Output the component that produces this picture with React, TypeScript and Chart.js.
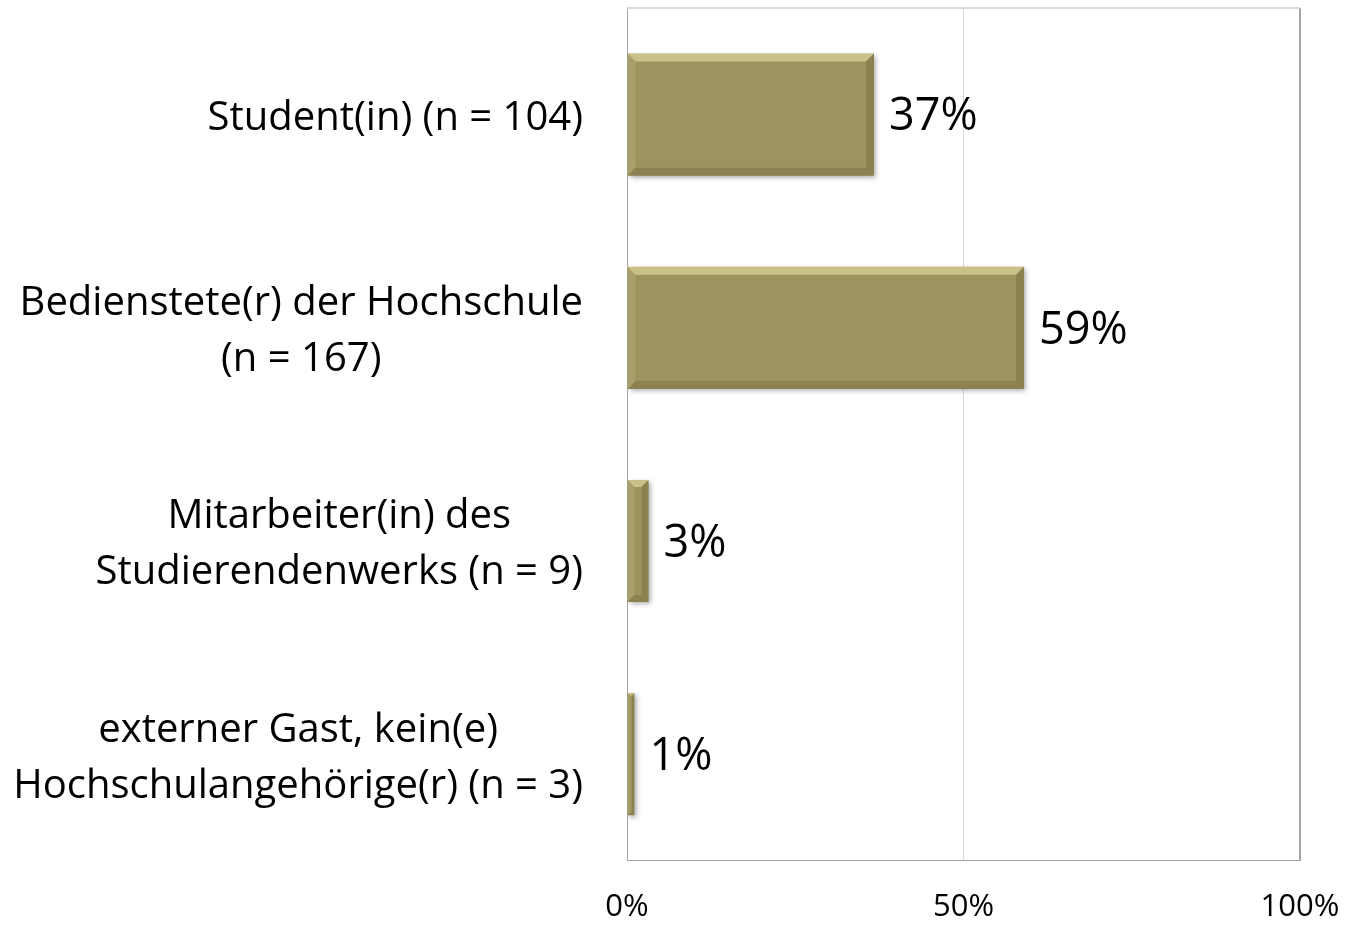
import React, { useEffect, useRef } from "react";
import { Chart, registerables } from "chart.js";
Chart.register(...registerables);

const categories: string[][] = [
  ["Student(in) (n = 104)"],
  ["Bedienstete(r) der Hochschule", "(n = 167)"],
  ["Mitarbeiter(in) des", "Studierendenwerks (n = 9)"],
  ["externer Gast, kein(e)", "Hochschulangehörige(r) (n = 3)"],
];
const values: number[] = [36.7, 59.0, 3.2, 1.1];
const valueLabels: string[] = ["37%", "59%", "3%", "1%"];
const xTickValues: number[] = [0, 50, 100];

const FONT = "'Open Sans', sans-serif";

export default function App() {
  const ref = useRef<HTMLCanvasElement>(null);
  useEffect(() => {
    const canvas = ref.current!;
    const decor: any = {
      id: "decor",
      beforeDatasetsDraw(chart: any) {
        const c = chart.ctx;
        c.save();
        c.shadowColor = "rgba(0,0,0,0.35)";
        c.shadowBlur = 5;
        c.shadowOffsetX = 2;
        c.shadowOffsetY = 2;
      },
      afterDatasetsDraw(chart: any) {
        const c = chart.ctx;
        c.restore();
        const meta = chart.getDatasetMeta(0);
        meta.data.forEach((el: any, i: number) => {
          const p = el.getProps(["x", "y", "base", "height"], true);
          const l = Math.min(p.base, p.x);
          const r = Math.max(p.base, p.x);
          const t = p.y - p.height / 2;
          const bt = p.y + p.height / 2;
          const w = r - l;
          const b = Math.max(1, Math.min(8, w / 3, p.height / 3));
          const poly = (pts: number[][], col: string) => {
            c.beginPath();
            c.moveTo(pts[0][0], pts[0][1]);
            for (let k = 1; k < pts.length; k++) c.lineTo(pts[k][0], pts[k][1]);
            c.closePath();
            c.fillStyle = col;
            c.fill();
          };
          c.save();
          poly([[l, t], [r, t], [r - b, t + b], [l + b, t + b]], "rgba(255,250,190,0.45)");
          poly([[r, t], [r, bt], [r - b, bt - b], [r - b, t + b]], "rgba(70,65,30,0.22)");
          poly([[l, bt], [r, bt], [r - b, bt - b], [l + b, bt - b]], "rgba(70,65,30,0.2)");
          poly([[l, t], [l + b, t + b], [l + b, bt - b], [l, bt]], "rgba(255,250,190,0.12)");
          c.restore();
          c.save();
          c.fillStyle = "#000";
          c.font = `45px ${FONT}`;
          c.textAlign = "left";
          c.textBaseline = "middle";
          c.fillText(valueLabels[i], r + 15, p.y + 3);
          c.restore();
        });
      },
      afterDraw(chart: any) {
        const c = chart.ctx;
        const a = chart.chartArea;
        c.save();
        c.strokeStyle = "#d9d9d9";
        c.lineWidth = 2;
        c.beginPath();
        c.moveTo(a.left, a.top);
        c.lineTo(a.right, a.top);
        c.stroke();
        const ys = chart.scales.y;
        c.fillStyle = "#000";
        c.font = `40px ${FONT}`;
        c.textAlign = "center";
        c.textBaseline = "middle";
        const rightEdge = a.left - 44;
        const lh = 56;
        categories.forEach((lines, i) => {
          const cy = ys.getPixelForValue(i) + 4;
          const wmax = Math.max(...lines.map((s) => c.measureText(s).width));
          const cx = rightEdge - wmax / 2;
          lines.forEach((s, k) => {
            const y = cy + (k - (lines.length - 1) / 2) * lh;
            c.fillText(s, cx, y);
          });
        });
        c.restore();
      },
    };
    const chart = new Chart(canvas, {
      type: "bar",
      data: {
        labels: categories.map((l) => l.join(" ")),
        datasets: [
          {
            data: values,
            backgroundColor: "#9e935e",
            borderWidth: 0,
            barPercentage: 0.573,
            categoryPercentage: 1,
          },
        ],
      },
      options: {
        indexAxis: "y",
        animation: false,
        responsive: false,
        maintainAspectRatio: false,
        devicePixelRatio: 1,
        layout: { padding: { left: 627, right: 45, top: 8, bottom: -29 } },
        plugins: { legend: { display: false }, tooltip: { enabled: false } },
        scales: {
          y: { display: false },
          x: {
            min: 0,
            max: 100,
            afterBuildTicks: (axis: any) => {
              axis.ticks = xTickValues.map((v) => ({ value: v }));
            },
            afterFit: (axis: any) => {
              axis.paddingLeft = 0;
              axis.paddingRight = 0;
            },
            ticks: {
              callback: (v: any) => v + "%",
              color: "#000",
              font: { family: FONT, size: 31 },
              padding: 28,
              maxRotation: 0,
            },
            grid: {
              drawTicks: false,
              color: (ctx: any) => (ctx.tick && ctx.tick.value === 50 ? "#d9d9d9" : "#a6a6a6"),
              lineWidth: (ctx: any) => (ctx.tick && ctx.tick.value === 100 ? 2 : 1),
            },
            border: { color: "#a6a6a6", width: 1 },
          },
        },
      },
      plugins: [decor],
    });
    return () => chart.destroy();
  }, []);
  return (
    <div style={{ position: "fixed", left: 0, top: 0, width: 1345, height: 925, background: "#fff" }}>
      <canvas ref={ref} width={1345} height={925} style={{ display: "block", width: 1345, height: 925 }} />
    </div>
  );
}
